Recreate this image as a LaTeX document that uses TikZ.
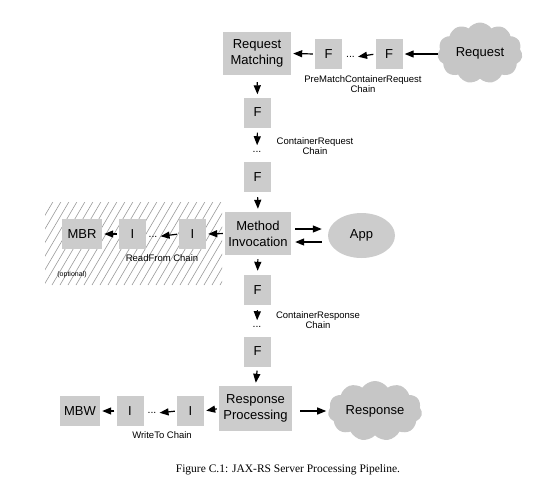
\documentclass[tikz,border=0pt]{standalone}
\usepackage{fontspec}
\setmainfont{Liberation Sans}
\newfontfamily\capfont{Liberation Serif}
\usetikzlibrary{arrows.meta,shapes.symbols,shapes.geometric}
\definecolor{boxgray}{HTML}{CCCCCC}
\definecolor{cloudgray}{HTML}{C6C6C6}
\definecolor{hatchgray}{HTML}{9A9A9A}
\tikzset{
  gbox/.style={fill=boxgray, draw=none, inner sep=0pt, align=center, font=\fontsize{13}{16}\selectfont},
  fbox/.style={gbox, minimum width=27pt, minimum height=30pt},
  bigbox/.style={gbox, minimum width=68pt, minimum height=43pt},
  dots/.style={inner sep=1pt, font=\fontsize{10.5}{12}\selectfont},
  lbl/.style={inner sep=0pt, align=center, font=\fontsize{9.5}{10}\selectfont},
  arr/.style={line width=1.2pt, -{Triangle[length=9pt,width=7pt]}, shorten <=2pt, shorten >=2pt},
  cloudnode/.style={cloud, cloud puffs=11, cloud puff arc=110, cloud ignores aspect, fill=cloudgray, draw=none, inner sep=0pt, font=\fontsize{13}{16}\selectfont},
}
\begin{document}
\begin{tikzpicture}[x=1pt,y=-1pt]
\useasboundingbox (0,0) rectangle (557,483);
% hatched optional area
\begin{scope}
  \clip (45,202) rectangle (222,285);
  \foreach \i in {-60,-52,...,230} {
    \draw[hatchgray, line width=0.6pt] (\i,285) -- ++(50,-85);
  }
\end{scope}
% nodes
\node[bigbox] (RM) at (257,53.5) {Request\\Matching};
\node[fbox] (PF1) at (328.5,54) {F};
\node[dots] (PD) at (350.5,57) {...};
\node[fbox] (PF2) at (389,54) {F};
\node[cloudnode, minimum width=85pt, minimum height=61pt] (REQ) at (480,53) {Request};
\node[lbl] (PL) at (363,84) {PreMatchContainerRequest\\Chain};

\node[fbox] (CF1) at (257.5,112.5) {F};
\node[dots] (CD) at (257,152) {...};
\node[fbox] (CF2) at (257.5,177) {F};
\node[lbl] (CL) at (315,146) {ContainerRequest\\Chain};

\node[gbox, minimum width=66pt, minimum height=43pt] (MI) at (258,233.5) {Method\\Invocation};
\node[ellipse, fill=boxgray, draw=none, minimum width=67pt, minimum height=45pt, inner sep=0pt, font=\fontsize{13}{16}\selectfont] (APP) at (361.5,235.5) {App};
\node[fbox] (RI1) at (192.5,234) {I};
\node[dots] (RD) at (153,236.5) {...};
\node[fbox] (RI2) at (132.5,234) {I};
\node[gbox, minimum width=40pt, minimum height=30pt] (MBR) at (82,234) {MBR};
\node[lbl] (RL) at (162,258) {ReadFrom Chain};
\node[inner sep=0pt, font=\fontsize{7}{8}\selectfont] (OPT) at (72,275) {(optional)};

\node[fbox] (SF1) at (257.5,290) {F};
\node[dots] (SD) at (257,327) {...};
\node[fbox] (SF2) at (257.5,351.5) {F};
\node[lbl] (SL) at (318,320) {ContainerResponse\\Chain};

\node[gbox, minimum width=73pt, minimum height=45pt] (RP) at (255.5,408.5) {Response\\Processing};
\node[cloudnode, minimum width=94pt, minimum height=60pt] (RESP) at (375,411) {Response};
\node[fbox] (WI1) at (190.5,411) {I};
\node[dots] (WD) at (152,413) {...};
\node[fbox] (WI2) at (130,411) {I};
\node[gbox, minimum width=40pt, minimum height=30pt] (MBW) at (80,411) {MBW};
\node[lbl] (WL) at (162,435) {WriteTo Chain};

\node[inner sep=0pt, font=\capfont\fontsize{11.5}{13}\selectfont] (CAP) at (288,470) {Figure C.1: JAX-RS Server Processing Pipeline.};

% connectors
\draw[arr, shorten <=0pt] (REQ.west |- PF2.east) -- (PF2.east);
\draw[arr] (PF2.west) -- (PD.east);
\draw[arr] (PF1.west) -- (RM.east);

\draw[arr, shorten <=7pt, shorten >=3pt] (RM.south) -- (CF1.north);
\draw[arr, shorten <=5pt, shorten >=5pt] (CF1.south) -- (CD.north);
\draw[arr, shorten <=5pt, shorten >=3pt] (CF2.south) -- (MI.north);

\draw[arr, shorten <=4pt, shorten >=6pt] ([yshift=4.5pt]MI.east) -- ([yshift=4.5pt]MI.east -| APP.west);
\draw[arr, shorten <=6pt, shorten >=4pt] ([yshift=-8.5pt]MI.east -| APP.west) -- ([yshift=-8.5pt]MI.east);

\draw[arr] (MI.west) -- (RI1.east);
\draw[arr] (RI1.west) -- (RD.east);
\draw[arr] (RI2.west) -- (MBR.east);

\draw[arr, shorten <=4pt, shorten >=4pt] (MI.south) -- (SF1.north);
\draw[arr, shorten <=5pt, shorten >=5pt] (SF1.south) -- (SD.north);
\draw[arr, shorten <=4pt, shorten >=3pt] (SF2.south) -- (RP.north);

\draw[arr, shorten <=8pt, shorten >=2pt] (RP.east |- RESP.west) -- (RESP.west);
\draw[arr] (RP.west) -- (WI1.east);
\draw[arr] (WI1.west) -- (WD.east);
\draw[arr] (WI2.west) -- (MBW.east);
\end{tikzpicture}
\end{document}
